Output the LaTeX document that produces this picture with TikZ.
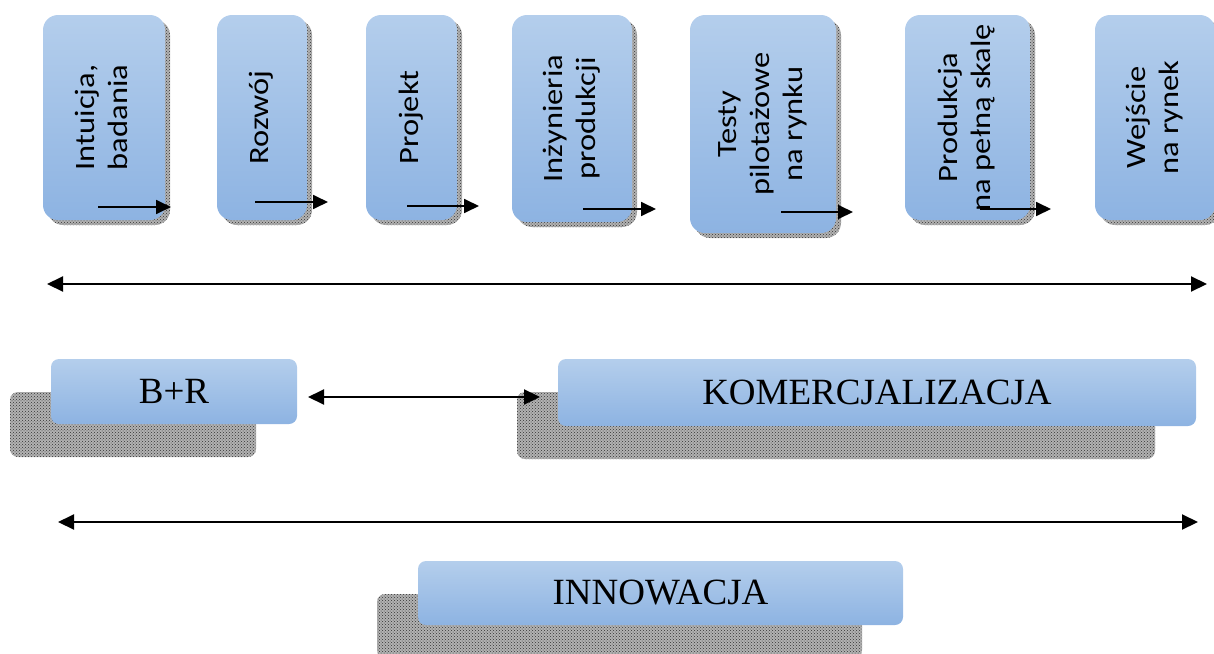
\documentclass[tikz,border=0pt]{standalone}
\usepackage{fontspec}
\setmainfont{Liberation Serif}
\newfontfamily\stagefont{Carlito}
\usetikzlibrary{arrows.meta, positioning, shadows, patterns}
\definecolor{colour_light}{HTML}{B4CEEC}
\definecolor{colour_dark}{HTML}{8DB3E2}
\colorlet{colour_shadow}{gray!60}

% rotated, centred multi-line label (stretched along the text)
\newcommand{\vertlabel}[1]{\scalebox{1}[1.16]{\rotatebox{90}{\begin{tabular}{@{}c@{}}#1\end{tabular}}}}

\begin{document}
\begin{tikzpicture}
   [
      x=1pt, y=-1pt,
      stage/.style={rounded corners=15pt, top color=colour_light, bottom color=colour_dark, inner sep=0pt,
         font=\stagefont\fontsize{28}{33}\selectfont,
         general shadow={shadow xshift=5pt, shadow yshift=-5pt, fill=colour_shadow},
         general shadow={shadow xshift=5pt, shadow yshift=-5pt, pattern=crosshatch dots, pattern color=black!80}},
      phase/.style={rounded corners=8pt, top color=colour_light, bottom color=colour_dark, inner sep=0pt,
         font=\fontsize{37}{44}\selectfont,
         general shadow={shadow xshift=-41pt, shadow yshift=-33pt, fill=colour_shadow},
         general shadow={shadow xshift=-41pt, shadow yshift=-33pt, pattern=crosshatch dots, pattern color=black!80}},
      flow/.style={line width=1.8pt, -{Triangle[length=15pt, width=14pt]}},
      span/.style={line width=2pt, {Triangle[length=16pt, width=15pt]}-{Triangle[length=16pt, width=15pt]}}
   ]

   \useasboundingbox (0,0) rectangle (1214,653);

   % =======================================================
   % Top row: stages
   % =======================================================

   \node[stage, minimum width=122pt, minimum height=205pt] (intuicja) at (104,117.5) {\vertlabel{Intuicja,\\badania}};
   \node[stage, minimum width=90pt, minimum height=205pt] (rozwoj) at (262,117.5) {\vertlabel{Rozwój}};
   \node[stage, minimum width=91pt, minimum height=205pt] (projekt) at (411.5,117.5) {\vertlabel{Projekt}};
   \node[stage, minimum width=120pt, minimum height=207pt] (inzynieria) at (572,118.5) {\vertlabel{Inżynieria\\produkcji}};
   \node[stage, minimum width=146pt, minimum height=218pt] (testy) at (763,124) {\vertlabel{Testy\\pilotażowe\\na rynku}};
   \node[stage, minimum width=125pt, minimum height=205pt] (produkcja) at (967.5,117.5) {\vertlabel{Produkcja\\na pełną skalę}};
   \node[stage, minimum width=120pt, minimum height=205pt] (wejscie) at (1155,117.5) {\vertlabel{Wejście\\na rynek}};

   % Small arrows inside the stages
   \coordinate (intuicja_tail) at (98,207);     \coordinate (intuicja_head) at (171,207);
   \coordinate (rozwoj_tail) at (255,202);      \coordinate (rozwoj_head) at (328,202);
   \coordinate (projekt_tail) at (407,206);     \coordinate (projekt_head) at (479,206);
   \coordinate (inzynieria_tail) at (583,209);  \coordinate (inzynieria_head) at (656,209);
   \coordinate (testy_tail) at (781,212);       \coordinate (testy_head) at (853,212);
   \coordinate (produkcja_tail) at (980,209);   \coordinate (produkcja_head) at (1051,209);

   \draw[flow] (intuicja_tail) -- (intuicja_head);
   \draw[flow] (rozwoj_tail) -- (rozwoj_head);
   \draw[flow] (projekt_tail) -- (projekt_head);
   \draw[flow] (inzynieria_tail) -- (inzynieria_head);
   \draw[flow] (testy_tail) -- (testy_head);
   \draw[flow] (produkcja_tail) -- (produkcja_head);

   % Span under the stages
   \coordinate (stages_left) at (47,284);
   \coordinate (stages_right) at (1207,284);
   \draw[span] (stages_left) -- (stages_right);

   % =======================================================
   % Middle row: B+R and commercialisation
   % =======================================================

   \node[phase, minimum width=246pt, minimum height=65pt] (br) at (174,391.5) {B+R};
   \node[phase, minimum width=638pt, minimum height=67pt] (komercjalizacja) at (877,392.5) {KOMERCJALIZACJA};

   \coordinate (br_gap) at (308,397);
   \coordinate (kom_gap) at (540,397);
   \draw[span] (br_gap) -- (kom_gap);

   % =======================================================
   % Bottom: innovation
   % =======================================================

   \coordinate (inn_left) at (58,522);
   \coordinate (inn_right) at (1198,522);
   \draw[span] (inn_left) -- (inn_right);

   \node[phase, minimum width=485pt, minimum height=64pt] (innowacja) at (660.5,593) {INNOWACJA};

\end{tikzpicture}
\end{document}
